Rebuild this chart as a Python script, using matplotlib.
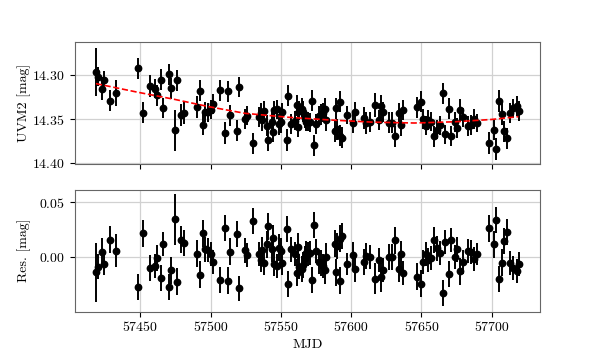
import matplotlib
matplotlib.use('Agg')
import matplotlib.pyplot as plt
import numpy as np

mjd = [57418.5, 57420.1, 57422.8, 57424.4, 57428.7, 57433.0, 57448.4, 57452.1, 57456.9, 57460.5,
       57462.1, 57464.7, 57465.9, 57470.4, 57472.0, 57474.5, 57476.3, 57478.7, 57480.9, 57490.5,
       57492.2, 57494.6, 57496.2, 57498.2, 57500.5, 57501.9, 57506.7, 57510.0, 57512.2, 57514.0,
       57518.6, 57520.0, 57524.3, 57525.9, 57530.2, 57534.2, 57535.6, 57536.8, 57538.2, 57540.1,
       57541.0, 57543.7, 57544.4, 57545.1, 57547.4, 57548.9, 57550.3, 57551.0, 57554.1, 57555.0,
       57557.0, 57559.8, 57561.5, 57562.2, 57563.1, 57564.8, 57565.7, 57566.9, 57568.1, 57569.5,
       57570.7, 57572.1, 57573.5, 57574.7, 57577.1, 57578.5, 57580.2, 57581.2, 57582.1, 57588.7,
       57589.2, 57590.1, 57592.0, 57592.2, 57593.7, 57597.2, 57601.3, 57602.9, 57609.3, 57610.7,
       57613.4, 57616.7, 57619.6, 57621.0, 57622.6, 57626.9, 57629.0, 57631.2, 57633.8, 57635.2,
       57637.1, 57647.0, 57649.9, 57651.3, 57653.0, 57654.8, 57656.6, 57659.1, 57661.2, 57663.2,
       57665.3, 57667.0, 57669.6, 57671.2, 57673.8, 57675.3, 57677.6, 57679.4, 57683.3, 57685.0,
       57687.6, 57689.8, 57697.8, 57701.4, 57703.0, 57705.1, 57707.3, 57708.9, 57711.0, 57713.2,
       57714.9, 57717.7, 57719.4]
resid = [-0.0136, -0.0084, 0.0045, -0.0060, 0.0160, 0.0060, -0.0268, 0.0217, -0.0097, -0.0078,
         -0.0006, -0.0190, 0.0124, -0.0268, -0.0118, 0.0346, -0.0220, 0.0160, 0.0130, 0.0033,
         -0.0157, 0.0217, 0.0072, 0.0066, 0.0027, -0.0042, -0.0208, 0.0265, -0.0211, 0.0052,
         0.0211, -0.0283, 0.0063, 0.0024, 0.0328, 0.0030, -0.0021, 0.0063, -0.0048, 0.0118,
         0.0280, 0.0072, 0.0178, -0.0063, -0.0078, 0.0088, 0.0060, -0.0048, 0.0259, -0.0241,
         0.0072, 0.0033, -0.0139, 0.0097, -0.0084, -0.0108, -0.0072, -0.0003, 0.0036, 0.0033,
         0.0042, -0.0205, 0.0296, 0.0054, -0.0042, -0.0054, -0.0078, -0.0118, 0.0006, 0.0124,
         -0.0136, 0.0102, 0.0169, -0.0211, 0.0193, -0.0063, 0.0018, -0.0102, -0.0042, 0.0012,
         0.0003, -0.0193, -0.0024, -0.0181, -0.0115, 0.0003, 0.0003, 0.0154, -0.0106, 0.0027,
         -0.0142, -0.0175, -0.0238, -0.0039, 0.0033, -0.0027, -0.0009, 0.0157, 0.0081, 0.0036,
         -0.0323, 0.0139, -0.0151, 0.0157, 0.0000, 0.0072, -0.0127, -0.0045, 0.0054, 0.0045,
         -0.0015, 0.0030, 0.0262, 0.0118, 0.0337, -0.0199, -0.0048, 0.0148, 0.0232, -0.0054,
         -0.0099, -0.0124, -0.0063]
err = [0.027, 0.011, 0.013, 0.010, 0.012, 0.015, 0.012, 0.012, 0.012, 0.011,
       0.012, 0.012, 0.011, 0.012, 0.012, 0.023, 0.012, 0.012, 0.012, 0.012,
       0.012, 0.012, 0.011, 0.011, 0.011, 0.011, 0.012, 0.012, 0.012, 0.012,
       0.012, 0.011, 0.011, 0.011, 0.012, 0.011, 0.011, 0.012, 0.011, 0.012,
       0.012, 0.011, 0.012, 0.011, 0.011, 0.012, 0.012, 0.011, 0.012, 0.012,
       0.011, 0.011, 0.012, 0.012, 0.011, 0.012, 0.012, 0.011, 0.011, 0.011,
       0.011, 0.012, 0.012, 0.011, 0.011, 0.012, 0.011, 0.012, 0.012, 0.012,
       0.012, 0.012, 0.012, 0.012, 0.012, 0.010, 0.012, 0.012, 0.012, 0.012,
       0.011, 0.014, 0.011, 0.013, 0.011, 0.012, 0.012, 0.012, 0.012, 0.012,
       0.011, 0.012, 0.012, 0.011, 0.011, 0.011, 0.011, 0.012, 0.011, 0.011,
       0.012, 0.011, 0.012, 0.011, 0.011, 0.011, 0.012, 0.011, 0.011, 0.011,
       0.011, 0.010, 0.012, 0.012, 0.012, 0.012, 0.012, 0.012, 0.012, 0.011,
       0.011, 0.011, 0.011]

# fitted model curve
fit_mjd = [57418.5, 57447.0, 57474.7, 57500.0, 57524.5, 57555.0, 57585.0, 57615.0, 57645.0, 57674.0, 57700.0, 57719.0]
fit_mag = [14.3102, 14.3195, 14.3280, 14.3365, 14.3436, 14.3480, 14.3511, 14.3535, 14.3545, 14.3531, 14.3505, 14.3474]

plt.rcParams['font.family'] = 'serif'
plt.rcParams['font.serif'] = ['cmr10']
plt.rcParams['mathtext.fontset'] = 'cm'
plt.rcParams['axes.formatter.use_mathtext'] = True
plt.rcParams['font.size'] = 10

mjd = np.array(mjd)
resid = np.array(resid)
err = np.array(err)
mag = np.interp(mjd, fit_mjd, fit_mag) + resid

fig, (ax1, ax2) = plt.subplots(2, 1, sharex=True, figsize=(6, 3.5), dpi=100)

for ax in (ax1, ax2):
	ax.grid(True, color='0.82', lw=0.9)
	ax.set_axisbelow(True)
	for s in ax.spines.values():
		s.set_color('0.4')

ax1.errorbar(mjd, mag, yerr=err, fmt='o', color='k', ms=4.6, elinewidth=1.4, capsize=0)
ax1.plot(fit_mjd, fit_mag, '--', color='red', lw=1.2, zorder=4)
ax1.set_ylim(14.4005, 14.263)
ax1.set_yticks([14.30, 14.35, 14.40])
ax1.set_ylabel('UVM2 [mag]')

ax2.errorbar(mjd, resid, yerr=err, fmt='o', color='k', ms=4.6, elinewidth=1.4, capsize=0)
ax2.set_ylim(-0.0495, 0.0615)
ax2.set_yticks([0.0, 0.05])
ax2.set_xlim(57403.6, 57734.4)
ax2.set_xticks([57450, 57500, 57550, 57600, 57650, 57700])
ax2.set_xticklabels(['57450', '57500', '57550', '57600', '57650', '57700'])
ax2.set_ylabel('Res. [mag]')
ax2.set_xlabel('MJD')

# both y labels sit at the same distance left of the axes
ax1.yaxis.set_label_coords(-0.095, 0.5)
ax2.yaxis.set_label_coords(-0.095, 0.5)

fig.subplots_adjust(left=0.125, right=0.9, top=0.881, bottom=0.109, hspace=0.21)
fig.savefig('out.png', dpi=100)
